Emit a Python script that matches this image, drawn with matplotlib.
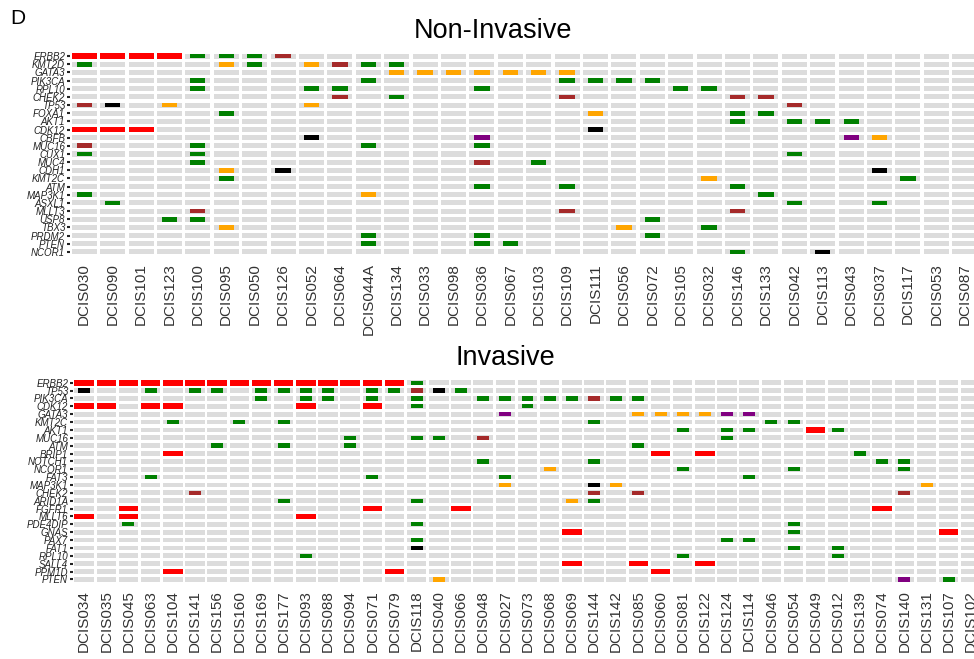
import matplotlib
matplotlib.use("Agg")
import matplotlib.pyplot as plt

# colours for each alteration type
type_colors = {
    "amp": "#FF0000",   # amplification
    "mis": "#008000",   # missense
    "fs": "#FFA500",    # frameshift
    "non": "#A52A2A",   # nonsense
    "spl": "#000000",   # splice
    "inf": "#800080",   # in-frame
}

# ---- Non-Invasive panel ----
top_samples = ["DCIS030", "DCIS090", "DCIS101", "DCIS123", "DCIS100", "DCIS095", "DCIS050",
               "DCIS126", "DCIS052", "DCIS064", "DCIS044A", "DCIS134", "DCIS033", "DCIS098",
               "DCIS036", "DCIS067", "DCIS103", "DCIS109", "DCIS111", "DCIS056", "DCIS072",
               "DCIS105", "DCIS032", "DCIS146", "DCIS133", "DCIS042", "DCIS113", "DCIS043",
               "DCIS037", "DCIS117", "DCIS053", "DCIS087"]
top_genes = ["ERBB2", "KMT2D", "GATA3", "PIK3CA", "RPL10", "CHEK2", "TP53", "FOXA1", "AKT1",
             "CDK12", "CBFB", "MUC16", "CUX1", "MUC4", "CDH1", "KMT2C", "ATM", "MAP3K1",
             "ASXL1", "MLLT3", "USP8", "TBX3", "PRDM2", "PTEN", "NCOR1"]
top_alts = [
    ("DCIS030", "ERBB2", "amp"), ("DCIS030", "KMT2D", "mis"), ("DCIS030", "TP53", "non"),
    ("DCIS030", "CDK12", "amp"), ("DCIS030", "MUC16", "non"), ("DCIS030", "CUX1", "mis"),
    ("DCIS030", "MAP3K1", "mis"),
    ("DCIS090", "ERBB2", "amp"), ("DCIS090", "TP53", "spl"), ("DCIS090", "CDK12", "amp"),
    ("DCIS090", "ASXL1", "mis"),
    ("DCIS101", "ERBB2", "amp"), ("DCIS101", "CDK12", "amp"),
    ("DCIS123", "ERBB2", "amp"), ("DCIS123", "TP53", "fs"), ("DCIS123", "USP8", "mis"),
    ("DCIS100", "ERBB2", "mis"), ("DCIS100", "PIK3CA", "mis"), ("DCIS100", "RPL10", "mis"),
    ("DCIS100", "MUC16", "mis"), ("DCIS100", "CUX1", "mis"), ("DCIS100", "MUC4", "mis"),
    ("DCIS100", "MLLT3", "non"), ("DCIS100", "USP8", "mis"),
    ("DCIS095", "ERBB2", "mis"), ("DCIS095", "KMT2D", "fs"), ("DCIS095", "FOXA1", "mis"),
    ("DCIS095", "CDH1", "fs"), ("DCIS095", "KMT2C", "mis"), ("DCIS095", "TBX3", "fs"),
    ("DCIS050", "ERBB2", "mis"), ("DCIS050", "KMT2D", "mis"),
    ("DCIS126", "ERBB2", "non"), ("DCIS126", "CDH1", "spl"),
    ("DCIS052", "KMT2D", "fs"), ("DCIS052", "RPL10", "mis"), ("DCIS052", "TP53", "fs"),
    ("DCIS052", "CBFB", "spl"),
    ("DCIS064", "KMT2D", "non"), ("DCIS064", "RPL10", "mis"), ("DCIS064", "CHEK2", "non"),
    ("DCIS044A", "KMT2D", "mis"), ("DCIS044A", "PIK3CA", "mis"), ("DCIS044A", "MUC16", "mis"),
    ("DCIS044A", "MAP3K1", "fs"), ("DCIS044A", "PRDM2", "mis"), ("DCIS044A", "PTEN", "mis"),
    ("DCIS134", "KMT2D", "mis"), ("DCIS134", "GATA3", "fs"), ("DCIS134", "CHEK2", "mis"),
    ("DCIS033", "GATA3", "fs"),
    ("DCIS098", "GATA3", "fs"),
    ("DCIS036", "GATA3", "fs"), ("DCIS036", "RPL10", "mis"), ("DCIS036", "CBFB", "inf"),
    ("DCIS036", "MUC16", "mis"), ("DCIS036", "MUC4", "non"), ("DCIS036", "ATM", "mis"),
    ("DCIS036", "PRDM2", "mis"), ("DCIS036", "PTEN", "mis"),
    ("DCIS067", "GATA3", "fs"), ("DCIS067", "PTEN", "mis"),
    ("DCIS103", "GATA3", "fs"), ("DCIS103", "MUC4", "mis"),
    ("DCIS109", "GATA3", "fs"), ("DCIS109", "PIK3CA", "mis"), ("DCIS109", "CHEK2", "non"),
    ("DCIS109", "ATM", "mis"), ("DCIS109", "MLLT3", "non"),
    ("DCIS111", "PIK3CA", "mis"), ("DCIS111", "FOXA1", "fs"), ("DCIS111", "CDK12", "spl"),
    ("DCIS056", "PIK3CA", "mis"), ("DCIS056", "TBX3", "fs"),
    ("DCIS072", "PIK3CA", "mis"), ("DCIS072", "USP8", "mis"), ("DCIS072", "PRDM2", "mis"),
    ("DCIS105", "RPL10", "mis"),
    ("DCIS032", "RPL10", "mis"), ("DCIS032", "KMT2C", "fs"), ("DCIS032", "TBX3", "mis"),
    ("DCIS146", "CHEK2", "non"), ("DCIS146", "FOXA1", "mis"), ("DCIS146", "AKT1", "mis"),
    ("DCIS146", "ATM", "mis"), ("DCIS146", "MLLT3", "non"), ("DCIS146", "NCOR1", "mis"),
    ("DCIS133", "CHEK2", "non"), ("DCIS133", "FOXA1", "mis"), ("DCIS133", "MAP3K1", "mis"),
    ("DCIS042", "TP53", "non"), ("DCIS042", "AKT1", "mis"), ("DCIS042", "CUX1", "mis"),
    ("DCIS042", "ASXL1", "mis"),
    ("DCIS113", "AKT1", "mis"), ("DCIS113", "NCOR1", "spl"),
    ("DCIS043", "AKT1", "mis"), ("DCIS043", "CBFB", "inf"),
    ("DCIS037", "CBFB", "fs"), ("DCIS037", "CDH1", "spl"), ("DCIS037", "ASXL1", "mis"),
    ("DCIS117", "KMT2C", "mis"),
]

# ---- Invasive panel ----
bot_samples = ["DCIS034", "DCIS035", "DCIS045", "DCIS063", "DCIS104", "DCIS141", "DCIS156",
               "DCIS160", "DCIS169", "DCIS177", "DCIS093", "DCIS088", "DCIS094", "DCIS071",
               "DCIS079", "DCIS118", "DCIS040", "DCIS066", "DCIS048", "DCIS027", "DCIS073",
               "DCIS068", "DCIS069", "DCIS144", "DCIS142", "DCIS085", "DCIS060", "DCIS081",
               "DCIS122", "DCIS124", "DCIS114", "DCIS046", "DCIS054", "DCIS049", "DCIS012",
               "DCIS139", "DCIS074", "DCIS140", "DCIS131", "DCIS107", "DCIS102"]
bot_genes = ["ERBB2", "TP53", "PIK3CA", "CDK12", "GATA3", "KMT2C", "AKT1", "MUC16", "ATM",
             "BRIP1", "NOTCH1", "NCOR1", "FAT3", "MAP3K1", "CHEK2", "ARID1A", "FGFR1", "MLLT6",
             "PDE4DIP", "GNAS", "PAX7", "FAT1", "RPL10", "SALL4", "PPM1D", "PTEN"]
bot_alts = [
    ("DCIS034", "ERBB2", "amp"), ("DCIS034", "TP53", "spl"), ("DCIS034", "CDK12", "amp"),
    ("DCIS034", "MLLT6", "amp"),
    ("DCIS035", "ERBB2", "amp"), ("DCIS035", "CDK12", "amp"),
    ("DCIS045", "ERBB2", "amp"), ("DCIS045", "FGFR1", "amp"), ("DCIS045", "MLLT6", "amp"),
    ("DCIS045", "PDE4DIP", "mis"),
    ("DCIS063", "ERBB2", "amp"), ("DCIS063", "TP53", "mis"), ("DCIS063", "CDK12", "amp"),
    ("DCIS063", "FAT3", "mis"),
    ("DCIS104", "ERBB2", "amp"), ("DCIS104", "CDK12", "amp"), ("DCIS104", "KMT2C", "mis"),
    ("DCIS104", "BRIP1", "amp"), ("DCIS104", "PPM1D", "amp"),
    ("DCIS141", "ERBB2", "amp"), ("DCIS141", "TP53", "mis"), ("DCIS141", "CHEK2", "non"),
    ("DCIS156", "ERBB2", "amp"), ("DCIS156", "TP53", "mis"), ("DCIS156", "ATM", "mis"),
    ("DCIS160", "ERBB2", "amp"), ("DCIS160", "KMT2C", "mis"),
    ("DCIS169", "ERBB2", "amp"), ("DCIS169", "TP53", "mis"), ("DCIS169", "PIK3CA", "mis"),
    ("DCIS177", "ERBB2", "amp"), ("DCIS177", "TP53", "mis"), ("DCIS177", "KMT2C", "mis"),
    ("DCIS177", "ATM", "mis"), ("DCIS177", "ARID1A", "mis"),
    ("DCIS093", "ERBB2", "amp"), ("DCIS093", "TP53", "mis"), ("DCIS093", "PIK3CA", "mis"),
    ("DCIS093", "CDK12", "amp"), ("DCIS093", "MLLT6", "amp"), ("DCIS093", "RPL10", "mis"),
    ("DCIS088", "ERBB2", "amp"), ("DCIS088", "TP53", "mis"), ("DCIS088", "PIK3CA", "mis"),
    ("DCIS094", "ERBB2", "amp"), ("DCIS094", "MUC16", "mis"), ("DCIS094", "ATM", "mis"),
    ("DCIS071", "ERBB2", "amp"), ("DCIS071", "TP53", "mis"), ("DCIS071", "PIK3CA", "mis"),
    ("DCIS071", "CDK12", "amp"), ("DCIS071", "FAT3", "mis"), ("DCIS071", "FGFR1", "amp"),
    ("DCIS079", "ERBB2", "amp"), ("DCIS079", "TP53", "mis"), ("DCIS079", "PPM1D", "amp"),
    ("DCIS118", "ERBB2", "mis"), ("DCIS118", "TP53", "non"), ("DCIS118", "PIK3CA", "mis"),
    ("DCIS118", "CDK12", "mis"), ("DCIS118", "MUC16", "mis"), ("DCIS118", "ARID1A", "mis"),
    ("DCIS118", "PDE4DIP", "mis"), ("DCIS118", "PAX7", "mis"), ("DCIS118", "FAT1", "spl"),
    ("DCIS040", "TP53", "spl"), ("DCIS040", "MUC16", "mis"), ("DCIS040", "PTEN", "fs"),
    ("DCIS066", "TP53", "mis"), ("DCIS066", "FGFR1", "amp"),
    ("DCIS048", "PIK3CA", "mis"), ("DCIS048", "MUC16", "non"), ("DCIS048", "NOTCH1", "mis"),
    ("DCIS027", "PIK3CA", "mis"), ("DCIS027", "GATA3", "inf"), ("DCIS027", "FAT3", "mis"),
    ("DCIS027", "MAP3K1", "fs"),
    ("DCIS073", "PIK3CA", "mis"), ("DCIS073", "CDK12", "mis"),
    ("DCIS068", "PIK3CA", "mis"), ("DCIS068", "NCOR1", "fs"),
    ("DCIS069", "PIK3CA", "mis"), ("DCIS069", "ARID1A", "fs"), ("DCIS069", "GNAS", "amp"),
    ("DCIS069", "SALL4", "amp"),
    ("DCIS144", "PIK3CA", "non"), ("DCIS144", "KMT2C", "mis"), ("DCIS144", "NOTCH1", "mis"),
    ("DCIS144", "MAP3K1", "spl"), ("DCIS144", "CHEK2", "non"), ("DCIS144", "ARID1A", "mis"),
    ("DCIS142", "PIK3CA", "mis"), ("DCIS142", "MAP3K1", "fs"),
    ("DCIS085", "PIK3CA", "mis"), ("DCIS085", "GATA3", "fs"), ("DCIS085", "ATM", "mis"),
    ("DCIS085", "CHEK2", "non"), ("DCIS085", "SALL4", "amp"),
    ("DCIS060", "GATA3", "fs"), ("DCIS060", "BRIP1", "amp"), ("DCIS060", "PPM1D", "amp"),
    ("DCIS081", "GATA3", "fs"), ("DCIS081", "AKT1", "mis"), ("DCIS081", "NCOR1", "mis"),
    ("DCIS081", "RPL10", "mis"),
    ("DCIS122", "GATA3", "fs"), ("DCIS122", "BRIP1", "amp"), ("DCIS122", "SALL4", "amp"),
    ("DCIS124", "GATA3", "inf"), ("DCIS124", "AKT1", "mis"), ("DCIS124", "MUC16", "mis"),
    ("DCIS124", "PAX7", "mis"),
    ("DCIS114", "GATA3", "inf"), ("DCIS114", "AKT1", "mis"), ("DCIS114", "FAT3", "mis"),
    ("DCIS114", "PAX7", "mis"),
    ("DCIS046", "KMT2C", "mis"),
    ("DCIS054", "KMT2C", "mis"), ("DCIS054", "NCOR1", "mis"), ("DCIS054", "PDE4DIP", "mis"),
    ("DCIS054", "GNAS", "mis"), ("DCIS054", "FAT1", "mis"),
    ("DCIS049", "AKT1", "amp"),
    ("DCIS012", "AKT1", "mis"), ("DCIS012", "FAT1", "mis"), ("DCIS012", "RPL10", "mis"),
    ("DCIS139", "BRIP1", "mis"),
    ("DCIS074", "NOTCH1", "mis"), ("DCIS074", "FGFR1", "amp"),
    ("DCIS140", "NOTCH1", "mis"), ("DCIS140", "NCOR1", "mis"), ("DCIS140", "CHEK2", "non"),
    ("DCIS140", "PTEN", "inf"),
    ("DCIS131", "MAP3K1", "fs"),
    ("DCIS107", "GNAS", "amp"), ("DCIS107", "PTEN", "mis"),
]

SANS = ["Liberation Sans", "DejaVu Sans"]


def oncoprint(ax, samples, genes, alts, bg_h, mut_h, amp_h):
    nx, ny = len(samples), len(genes)
    # grey background cells
    for j in range(ny):
        ax.bar(range(nx), bg_h, width=0.88, bottom=j - bg_h / 2,
               color="#DCDCDC", linewidth=0)
    for t, col in type_colors.items():
        xs = [samples.index(s) for s, g, k in alts if k == t]
        ys = [genes.index(g) for s, g, k in alts if k == t]
        if t == "amp":
            h, w = amp_h, 0.88
        else:
            h, w = mut_h, 0.54
        ax.bar(xs, h, width=w, bottom=[y - h / 2 for y in ys], color=col, linewidth=0)
    ax.set_xlim(-0.5, nx - 0.5)
    ax.set_ylim(ny - 0.5, -0.5)
    for s in ax.spines.values():
        s.set_visible(False)
    ax.set_xticks(range(nx))
    ax.set_xticklabels(samples, rotation=90, fontsize=11, color="#333333", family=SANS)
    ax.set_yticks(range(ny))
    ax.set_yticklabels(genes, fontsize=7, style="italic", color="#222222", family=SANS)
    ax.tick_params(axis="x", length=0, pad=5)
    ax.tick_params(axis="y", length=2.5, width=1.5, pad=1, color="#222222")


fig = plt.figure(figsize=(9.74, 6.59), dpi=100)

ax1 = fig.add_axes([70 / 974, 1 - 256 / 659, 909 / 974, 204 / 659])
oncoprint(ax1, top_samples, top_genes, top_alts, 0.62, 0.58, 0.72)

ax2 = fig.add_axes([73 / 974, 1 - 583.3 / 659, 909 / 974, 204.5 / 659])
oncoprint(ax2, bot_samples, bot_genes, bot_alts, 0.6, 0.55, 0.72)

fig.text(493 / 974, 1 - 38 / 659, "Non-Invasive", ha="center", va="baseline",
         fontsize=19.5, family=SANS)
fig.text(505 / 974, 1 - 365 / 659, "Invasive", ha="center", va="baseline",
         fontsize=19.5, family=SANS)
fig.text(10 / 974, 1 - 24 / 659, "D", ha="left", va="baseline", fontsize=15, family=SANS)

fig.savefig("out.png", dpi=100)
